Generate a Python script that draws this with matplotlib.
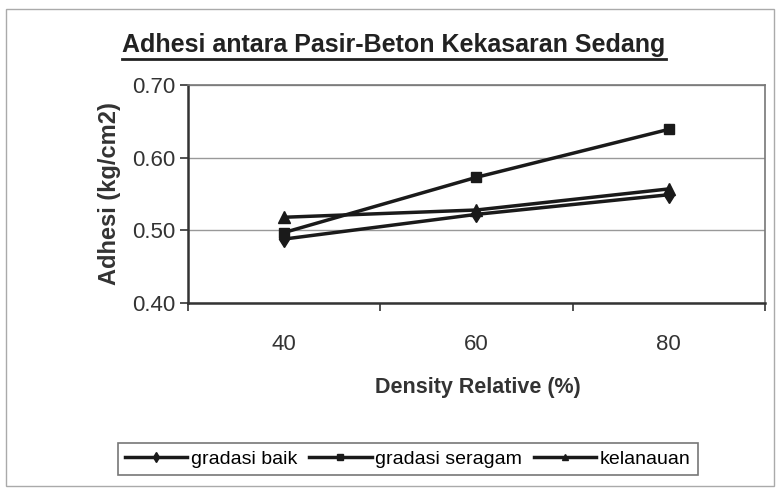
import matplotlib
matplotlib.use("Agg")
import matplotlib.pyplot as plt
from matplotlib.lines import Line2D
from matplotlib.patches import Rectangle
from matplotlib import font_manager

# data
density = ["40", "60", "80"]
gradasi_baik = [0.488, 0.522, 0.549]
gradasi_seragam = [0.497, 0.573, 0.639]
kelanauan = [0.518, 0.528, 0.557]

names = [f.name for f in font_manager.fontManager.ttflist]
fam = "Liberation Sans Narrow" if "Liberation Sans Narrow" in names else "Liberation Sans"
plt.rcParams['font.family'] = [fam, 'DejaVu Sans']

fig = plt.figure(figsize=(7.79, 4.9), dpi=100)
ax = fig.add_axes([188/779, 1-303/490, 577/779, 218/490])

x = range(len(density))
ax.plot(x, gradasi_baik, color='#1a1a1a', lw=2.5, marker='d', ms=8, label='gradasi baik')
ax.plot(x, gradasi_seragam, color='#1a1a1a', lw=2.5, marker='s', ms=7, label='gradasi seragam')
ax.plot(x, kelanauan, color='#1a1a1a', lw=2.5, marker='^', ms=8, label='kelanauan')

ax.set_xlim(-0.5, 2.5)
ax.set_ylim(0.40, 0.70)
ax.set_yticks([0.40, 0.50, 0.60, 0.70])
ax.set_yticklabels(["0.40", "0.50", "0.60", "0.70"], fontsize=16, color='#333333')
ax.set_xticks(list(x))
ax.set_xticklabels(density, fontsize=16, color='#333333')
ax.set_xticks([-0.5, 0.5, 1.5, 2.5], minor=True)
ax.tick_params(axis='x', which='major', length=0, pad=22)
ax.tick_params(axis='x', which='minor', length=6, width=1.2, color='#333333')
ax.tick_params(axis='y', length=6, width=1.2, color='#333333', pad=3)
ax.grid(axis='y', color='#999999', lw=1)
for s in ['top', 'right']:
    ax.spines[s].set_color('#777777')
    ax.spines[s].set_linewidth(1.2)
for s in ['left', 'bottom']:
    ax.spines[s].set_color('#333333')
    ax.spines[s].set_linewidth(1.8)

fig.text(110/779, 1-194/490, "Adhesi (kg/cm2)", rotation=90, ha='center', va='center',
         fontsize=17, fontweight='bold', color='#333333')
fig.text(478/779, 1-387/490, "Density Relative (%)", ha='center', va='center',
         fontsize=15.5, fontweight='bold', color='#333333')
title = fig.text(394/779, 1-45/490, "Adhesi antara Pasir-Beton Kekasaran Sedang", ha='center',
                 va='center', fontsize=18, fontweight='bold', color='#222222')

# underline under the title
r = fig.canvas.get_renderer()
bb = title.get_window_extent(renderer=r)
uy = (bb.y0 - 2) / fig.bbox.height
fig.add_artist(Line2D([bb.x0 / fig.bbox.width, bb.x1 / fig.bbox.width], [uy, uy],
                      color='#222222', lw=2))

leg = fig.legend(loc='center', bbox_to_anchor=(408/779, 1-459/490), ncol=3, fontsize=14,
                 frameon=True, fancybox=False, handlelength=3.2, columnspacing=0.6,
                 handletextpad=0.2, borderpad=0.35, markerscale=0.6)
leg.get_frame().set_edgecolor('#555555')
leg.get_frame().set_linewidth(1.2)

# outer chart border
fig.add_artist(Rectangle((6/779, 1-486/490), 768/779, 477/490, transform=fig.transFigure,
                         fill=False, edgecolor='#aaaaaa', lw=1))

fig.savefig("out.png", dpi=100)
